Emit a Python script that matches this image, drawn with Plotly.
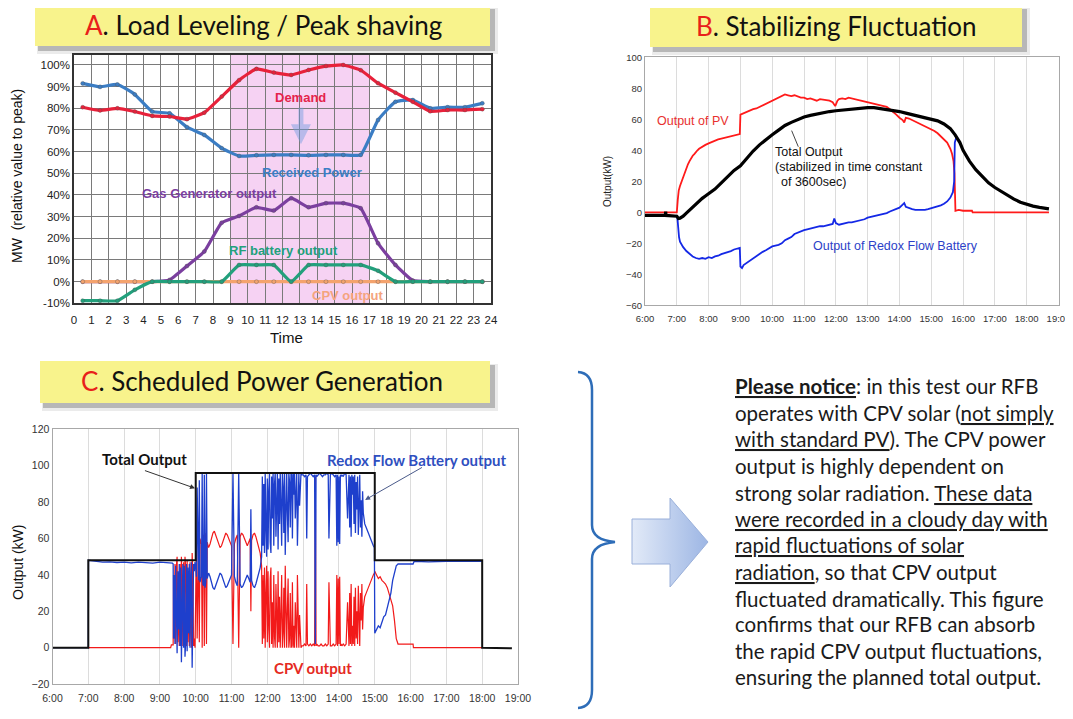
import plotly.graph_objects as go

# The page places the figure 8px from the top-left corner, so the figure is
# 8px smaller than the window and all reference pixel positions are shifted.
OFF = 8
RW, RH = 1073, 719
W, H = RW - OFF, RH - OFF

# ---------------- Panel A : Load leveling ----------------
a_hours = [0.5, 1.5, 2.5, 3.5, 4.5, 5.5, 6.5, 7.5, 8.5, 9.5, 10.5, 11.5,
           12.5, 13.5, 14.5, 15.5, 16.5, 17.5, 18.5, 19.5, 20.5, 21.5, 22.5, 23.5]
a_demand = [80.5, 79, 80, 78.5, 76.5, 76.2, 75, 78, 85.4, 93, 98.2, 96.5,
            95.4, 97.7, 99.5, 100, 97.6, 91.6, 87.2, 83, 78.6, 79.2, 79.2, 79.6]
a_received = [91.5, 89.9, 91, 86.4, 78.5, 77.7, 71.3, 67.7, 61.6, 58, 58.3, 58.5,
              58.5, 58.3, 58.5, 58.5, 58.5, 74.6, 83, 83.8, 80, 80.5, 80.5, 82.3]
a_gas = [0, 0, 0, 0, 0, 0.8, 7.2, 13.9, 27.2, 30.3, 34.3, 32.8,
         38.5, 34.3, 36.2, 36.2, 33.9, 17.7, 7.7, 0.5, 0, 0, 0, 0]
a_rf = [-8.8, -8.8, -8.8, -3.8, 0, 0, 0, 0, 0, 7.7, 7.7, 7.7,
        0, 7.7, 7.7, 7.7, 7.7, 5, 0, 0, 0, 0, 0, 0]
a_cpv = [0, 0, 0, 0, 0, 0, 0, 0, 0, 0, 0, 0,
         0, 0, 0, 0, 0, 0, 0, 0, 0, 0, 0, 0]
a_xticks = list(range(0, 25))
a_yticks = [-10, 0, 10, 20, 30, 40, 50, 60, 70, 80, 90, 100]
a_ytext = ["-10%", "0%", "10%", "20%", "30%", "40%", "50%", "60%", "70%", "80%", "90%", "100%"]

# ---------------- Panel B : Stabilizing fluctuation ----------------
b_pv_t = [6.0, 7.0, 7.03, 7.06, 7.1, 7.15, 7.2, 7.25, 7.3, 7.35, 7.4, 7.45, 7.5, 7.55, 7.6, 7.65,
          7.7, 7.8, 7.9, 8.0, 8.1, 8.2, 8.3, 8.4, 8.5, 8.6, 8.7, 8.8, 8.9, 8.98, 9.0, 9.1, 9.2,
          9.3, 9.4, 9.5, 9.6, 9.7, 9.8, 9.9, 10.0, 10.1, 10.2, 10.3, 10.4, 10.5, 10.6, 10.7, 10.8,
          10.9, 11.0, 11.1, 11.2, 11.3, 11.4, 11.5, 11.6, 11.7, 11.8, 11.9, 11.98, 12.05, 12.1,
          12.2, 12.3, 12.4, 12.5, 12.6, 12.7, 12.8, 12.9, 13.0, 13.1, 13.2, 13.3, 13.4, 13.5, 13.6,
          13.7, 13.8, 13.9, 14.0, 14.1, 14.15, 14.2, 14.3, 14.4, 14.5, 14.6, 14.7, 14.8, 14.9, 15.0,
          15.1, 15.2, 15.3, 15.4, 15.5, 15.6, 15.65, 15.7, 15.73, 15.76, 15.86, 16.0, 16.28, 16.3, 18.7]
b_pv_v = [0, 0, 8, 14, 17, 20, 23, 26, 29, 31, 33, 35, 36.5, 37.5, 39, 40,
          41, 42.5, 43.5, 44.5, 45.5, 46, 47, 47.5, 48, 48.5, 49, 49.5, 50, 50.5, 63, 64, 65,
          66, 66.5, 67, 68, 69.5, 70.5, 71.5, 72.5, 73, 74, 75, 76, 75.5, 75, 75.5, 74.5,
          74, 74, 73, 73.5, 72.5, 72, 73, 72.5, 72.5, 72, 71, 68.5, 72, 73,
          73.5, 73, 74, 73.5, 73, 72.5, 72, 71.5, 71, 70.5, 70, 69.5, 69, 68.5, 68,
          66.5, 65, 63, 61, 59.5, 58, 61, 60.5, 59.5, 58.5, 58, 57, 56, 55, 54,
          52.5, 51, 49, 47, 45, 41, 38, 33, 25, 1, 1.5, 1, 1, 0, 0]
b_tot_t = [6.0, 6.64, 6.65, 6.66, 7.0, 7.05, 7.1, 7.2, 7.3, 7.4, 7.5, 7.6, 7.7, 7.8, 7.9, 8.0,
           8.2, 8.4, 8.6, 8.8, 9.0, 9.2, 9.4, 9.6, 9.8, 10.0, 10.2, 10.4, 10.6, 10.8, 11.0, 11.2,
           11.4, 11.6, 11.8, 12.0, 12.2, 12.4, 12.6, 12.8, 13.0, 13.2, 13.4, 13.6, 13.8, 14.0,
           14.2, 14.4, 14.6, 14.8, 15.0, 15.2, 15.4, 15.6, 15.75, 15.9, 16.0, 16.2, 16.4, 16.6,
           16.8, 17.0, 17.2, 17.4, 17.6, 17.8, 18.0, 18.2, 18.4, 18.6, 18.7]
b_tot_v = [-2, -2, 0.5, -2, -2.5, -4, -3.8, -2.5, -0.5, 1.5, 3.5, 5.5, 7.5, 9, 10.5, 12,
           15, 19, 23, 27, 30, 35, 39.5, 43.5, 47, 50, 53, 56, 58, 60, 61.5, 62.5,
           63.5, 64.5, 65, 65.5, 66, 66.5, 67, 67.5, 67.5, 67.5, 67, 66.5, 66, 65,
           64, 63, 62, 61, 60, 59, 57, 54, 50, 45, 40, 33, 27.5, 23.5,
           19, 16, 13.5, 10.5, 8.5, 6.5, 5, 4, 3.2, 2.6, 2.2]
b_rfb_t = [6.0, 7.0, 7.02, 7.04, 7.07, 7.1, 7.15, 7.2, 7.3, 7.4, 7.5, 7.6, 7.7, 7.8, 7.9, 8.0,
           8.1, 8.2, 8.3, 8.4, 8.5, 8.6, 8.7, 8.8, 8.9, 8.98, 9.0, 9.05, 9.1, 9.2, 9.3, 9.4, 9.5,
           9.6, 9.7, 9.8, 9.9, 10.0, 10.1, 10.2, 10.3, 10.4, 10.5, 10.6, 10.7, 10.8, 10.9, 11.0,
           11.1, 11.2, 11.3, 11.4, 11.5, 11.6, 11.7, 11.8, 11.9, 11.95, 12.0, 12.1, 12.2, 12.3,
           12.4, 12.5, 12.6, 12.7, 12.8, 12.9, 13.0, 13.1, 13.2, 13.3, 13.4, 13.5, 13.6, 13.7,
           13.8, 13.9, 14.0, 14.1, 14.15, 14.2, 14.3, 14.4, 14.5, 14.6, 14.7, 14.8, 14.9, 15.0,
           15.1, 15.2, 15.3, 15.4, 15.5, 15.6, 15.68, 15.72, 15.74, 15.78]
b_rfb_v = [-2, -2.5, -4, -10, -16, -19, -21, -22.5, -25, -27, -28.5, -29.5, -30, -29.5, -30, -29,
           -29.5, -28.5, -28, -27, -26.5, -26, -25, -24, -23.5, -23, -35, -36, -34, -32.5, -31, -29.5, -28.5,
           -27, -25.5, -24.5, -23, -22, -21.5, -21, -20, -18, -17, -16, -14, -13, -12, -11.5,
           -11, -10.5, -10, -9.5, -9, -9, -8.5, -8, -7.5, -4, -7, -8, -7.5, -7,
           -6.5, -6.5, -6, -5.5, -5, -4.5, -3.5, -3, -2.5, -2, -1.5, -1, -0.5, 0.5,
           1.5, 2, 3, 5, 6, 3.5, 2.5, 2, 1.5, 1.5, 1.5, 1.5, 2, 2.5,
           3, 3.5, 4.5, 5.5, 7, 9.5, 13, 20, 45, 48]
b_ticks = [6, 7, 8, 9, 10, 11, 12, 13, 14, 15, 16, 17, 18, 19]
b_ticktext = ["6:00", "7:00", "8:00", "9:00", "10:00", "11:00", "12:00", "13:00",
              "14:00", "15:00", "16:00", "17:00", "18:00", "19:00"]

# ---------------- Panel C : Scheduled power generation ----------------
c_tot_t = [6.0, 7.0, 7.0, 10.0, 10.0, 15.0, 15.0, 18.0, 18.0, 18.83]
c_tot_v = [0, 0, 48, 48, 96, 96, 48, 48, 0, -0.3]

c_t_early = [9.30, 9.32, 9.37, 9.38, 9.40, 9.42, 9.44, 9.46, 9.48, 9.50, 9.52, 9.54, 9.56, 9.58,
             9.60, 9.62, 9.64, 9.66, 9.68, 9.70, 9.72, 9.74, 9.76, 9.78, 9.80, 9.82, 9.84, 9.86,
             9.88, 9.90, 9.92, 9.94, 9.96, 9.98]
c_cpv_early = [0, 1.5, 1.5, 40, 5, 46, 2, 45, 50, 3, 36, 1, 46, 4,
               50, 28, 1, 47, 2, 50, 44, 1, 48, 3, 40, 1, 47, 8,
               0, 52, 38, 1, 5, 0]
c_t_rfb_early = [9.37, 9.38, 9.40, 9.42, 9.44, 9.46, 9.48, 9.50, 9.52, 9.54, 9.56, 9.58, 9.60,
                 9.62, 9.64, 9.66, 9.68, 9.70, 9.72, 9.74, 9.76, 9.78, 9.80, 9.82, 9.84, 9.86,
                 9.88, 9.90, 9.92, 9.94, 9.96, 9.98]
c_rfb_early = [46, 5, 40, 2, 45, 0, -3, 42, 10, 46, 1, 44, -8,
               20, 46, 0, 45, -5, 3, 46, -2, 44, 8, 46, 0, 40,
               47, -11, 10, 46, 42, 47]

c_t_mid1 = [10.00, 10.02, 10.04, 10.06, 10.08, 10.10, 10.12, 10.14, 10.16, 10.18,
            10.20, 10.22, 10.24, 10.26, 10.28, 10.30, 10.32, 10.34, 10.36, 10.40,
            10.44, 10.48, 10.52, 10.56, 10.60, 10.64, 10.68, 10.72, 10.76, 10.80,
            10.84, 10.88, 10.92, 10.96, 11.00, 11.04, 11.06, 11.08, 11.12, 11.16,
            11.20, 11.22, 11.24, 11.28, 11.32, 11.36, 11.40, 11.44, 11.48, 11.52,
            11.54, 11.56, 11.60, 11.64, 11.68, 11.72, 11.76, 11.80, 11.84]
c_cpv_mid1 = [55, 57, 5, 58, 59, 3, 60, 58, 57, 0,
              61, 62, 1, 63, 60, 2, 58, 56, 55, 57,
              60, 63, 64, 62, 59, 57, 55, 56, 58, 61,
              63, 62, 60, 58, 56, 2, 54, 57, 60, 62,
              0, 58, 61, 63, 62, 60, 58, 56, 58, 60,
              20, 59, 62, 63, 61, 58, 55, 52, 45]
c_rfb_mid1 = [44, 39, 88, 38, 37, 92, 36, 38, 39, 96,
              35, 34, 95, 33, 36, 96, 38, 40, 41, 39,
              36, 33, 32, 34, 37, 39, 41, 40, 38, 35,
              33, 34, 36, 38, 40, 96, 42, 39, 36, 34,
              96, 38, 35, 33, 34, 36, 38, 40, 38, 36,
              76, 37, 34, 33, 35, 38, 41, 44, 50]

c_t_mid2 = [11.86, 11.88, 11.90, 11.92, 11.94, 11.96, 11.98, 12.00, 12.02, 12.04,
            12.06, 12.08, 12.10, 12.12, 12.14, 12.16, 12.18, 12.20, 12.22, 12.24,
            12.26, 12.28, 12.30, 12.32, 12.34, 12.36, 12.38, 12.40, 12.42, 12.44,
            12.46, 12.48, 12.50, 12.52, 12.54, 12.56, 12.58, 12.60, 12.62, 12.64,
            12.66, 12.68, 12.70, 12.72, 12.74, 12.76, 12.78, 12.80, 12.82, 12.84,
            12.86, 12.88, 12.90, 12.92, 12.94, 12.96, 12.98]
c_cpv_mid2 = [2, 40, 5, 44, 0, 30, 45, 3, 42, 10,
              0, 38, 44, 2, 25, 0, 40, 6, 0, 35,
              12, 0, 42, 3, 28, 0, 18, 40, 0, 8,
              33, 0, 45, 2, 0, 22, 38, 0, 5, 30,
              0, 1, 36, 0, 12, 0, 25, 1, 0, 40,
              2, 0, 18, 1, 0, 1, 1]
c_rfb_mid2 = [94, 56, 90, 52, 96, 66, 50, 93, 54, 86,
              96, 58, 52, 94, 71, 96, 56, 90, 96, 61,
              84, 96, 54, 93, 68, 96, 78, 56, 96, 88,
              63, 96, 51, 94, 96, 74, 58, 96, 91, 66,
              96, 95, 60, 96, 84, 96, 71, 95, 96, 56,
              94, 96, 78, 95, 96, 95, 95]

c_t_mid3 = [13.00, 13.04, 13.08, 13.10, 13.12, 13.16, 13.20, 13.24, 13.28, 13.32,
            13.34, 13.36, 13.38, 13.42, 13.46, 13.50, 13.54, 13.58, 13.62, 13.66,
            13.70, 13.72, 13.74, 13.76, 13.80, 13.84, 13.88, 13.92, 13.94, 13.96,
            13.98, 14.00, 14.02, 14.04, 14.06, 14.08, 14.12, 14.16, 14.20, 14.24,
            14.28, 14.30, 14.32, 14.34, 14.36, 14.38, 14.40, 14.42, 14.44, 14.46,
            14.48, 14.50, 14.52, 14.54, 14.56, 14.58, 14.60, 14.62, 14.64, 14.66,
            14.68, 14.72, 14.76, 14.80, 14.84, 14.88, 14.92, 14.96, 14.99]
c_cpv_mid3 = [1, 2, 1, 35, 2, 1, 2, 1, 2, 1,
              94, 1, 2, 1, 1, 2, 1, 1, 2, 1,
              2, 36, 2, 1, 1, 2, 1, 2, 40, 1,
              38, 2, 39, 1, 2, 1, 2, 1, 2, 25,
              1, 30, 2, 35, 1, 12, 2, 28, 1, 33,
              5, 20, 2, 34, 8, 1, 30, 15, 35, 10,
              22, 28, 30, 32, 35, 37, 38, 40, 41]
c_rfb_mid3 = [95, 94, 95, 60, 94, 95, 96, 95, 94, 95,
              2, 95, 94, 95, 96, 95, 94, 95, 95, 96,
              95, 60, 94, 95, 96, 95, 94, 95, 56, 95,
              58, 94, 57, 95, 94, 95, 94, 96, 95, 71,
              95, 66, 94, 61, 95, 84, 94, 68, 95, 63,
              91, 76, 94, 62, 88, 95, 66, 81, 61, 86,
              74, 68, 66, 64, 61, 59, 58, 56, 55]

c_t_cpv_late = [15.0, 15.05, 15.1, 15.15, 15.2, 15.25, 15.3, 15.35, 15.4, 15.45, 15.5, 15.55,
                15.6, 15.65, 16.07, 16.08, 18.0]
c_cpv_late = [42, 40, 38, 39, 37, 36, 35, 33, 30, 27, 23, 15, 5, 2, 2, 0, 0]
c_t_rfb_late = [15.0, 15.05, 15.1, 15.15, 15.2, 15.25, 15.3, 15.35, 15.4, 15.45, 15.5, 15.55,
                15.6, 15.65, 16.07, 16.1, 16.5, 17.0, 17.5, 17.99]
c_rfb_late = [8, 10, 12, 11, 14, 17, 18, 22, 25, 30, 37, 42, 45, 46, 46, 47.5, 47.2, 47.5, 47.3, 47.5]

c_t_rfb_start = [6.0, 7.0, 7.005, 7.2, 7.4, 7.6, 7.8, 8.0, 8.2, 8.4, 8.6, 8.8, 9.0, 9.2, 9.35]
c_rfb_start = [0, 0, 48, 47.5, 47, 47.2, 46.8, 47, 46.6, 47, 46.8, 46.5, 47, 46.6, 46.5]
c_t_cpv_start = [7.0]
c_cpv_start = [0]

c_cpv_t = c_t_cpv_start + c_t_early + c_t_mid1 + c_t_mid2 + c_t_mid3 + c_t_cpv_late
c_cpv_v = c_cpv_start + c_cpv_early + c_cpv_mid1 + c_cpv_mid2 + c_cpv_mid3 + c_cpv_late
c_rfb_t = c_t_rfb_start + c_t_rfb_early + c_t_mid1 + c_t_mid2 + c_t_mid3 + c_t_rfb_late
c_rfb_v = c_rfb_start + c_rfb_early + c_rfb_mid1 + c_rfb_mid2 + c_rfb_mid3 + c_rfb_late

# ---------------- Notice text ----------------
notice_lines = [
    "<u><b>Please notice</b></u>: in this test our RFB",
    "operates with CPV solar (<u>not simply</u>",
    "<u>with standard PV</u>). The CPV power",
    "output is highly dependent on",
    "strong solar radiation. <u>These data</u>",
    "<u>were recorded in a cloudy day with</u>",
    "<u>rapid fluctuations of solar</u>",
    "<u>radiation</u>, so that CPV output",
    "fluctuated dramatically. This figure",
    "confirms that our RFB can absorb",
    "the rapid CPV output fluctuations,",
    "ensuring the planned total output.",
]

# =====================================================================
fig = go.Figure()
ARIAL = "Liberation Sans, Arial, sans-serif"
CAL = "Lato, Carlito, Calibri, sans-serif"

a_series = [
    (a_gas, "#7B3F9F", "Gas Generator output"),
    (a_cpv, "#F4A36E", "CPV output"),
    (a_rf, "#22A07C", "RF battery output"),
    (a_received, "#3B7DC4", "Received Power"),
    (a_demand, "#E8213A", "Demand"),
]
for vals, col, nm in a_series:
    fig.add_trace(go.Scatter(x=a_hours, y=vals, mode="lines+markers", name=nm,
                             line=dict(color=col, width=3.2, shape="spline", smoothing=0.4),
                             marker=dict(size=4, color=col, line=dict(width=0.6, color="rgba(80,80,80,0.6)")),
                             xaxis="x", yaxis="y", showlegend=False, hoverinfo="skip"))

fig.add_trace(go.Scatter(x=b_pv_t, y=b_pv_v, mode="lines", line=dict(color="#FF1A1A", width=1.8),
                         xaxis="x2", yaxis="y2", showlegend=False))
fig.add_trace(go.Scatter(x=b_rfb_t, y=b_rfb_v, mode="lines", line=dict(color="#1428E6", width=1.8),
                         xaxis="x2", yaxis="y2", showlegend=False))
fig.add_trace(go.Scatter(x=b_tot_t, y=b_tot_v, mode="lines", line=dict(color="#000000", width=3.2),
                         xaxis="x2", yaxis="y2", showlegend=False))

fig.add_trace(go.Scatter(x=c_cpv_t, y=c_cpv_v, mode="lines", line=dict(color="#F21A1A", width=1.2),
                         xaxis="x3", yaxis="y3", showlegend=False))
fig.add_trace(go.Scatter(x=c_rfb_t, y=c_rfb_v, mode="lines", line=dict(color="#1E3FCC", width=1.3),
                         xaxis="x3", yaxis="y3", showlegend=False))
fig.add_trace(go.Scatter(x=c_tot_t, y=c_tot_v, mode="lines", line=dict(color="#111111", width=2),
                         xaxis="x3", yaxis="y3", showlegend=False))

# block arrow drawn on a pixel overlay axis (reference pixel coordinates)
arrow_x = [632, 670, 670, 708, 670, 670, 632, 632]
arrow_y = [519, 519, 498, 542, 587, 564, 564, 519]
fig.add_trace(go.Scatter(x=arrow_x, y=arrow_y, mode="lines", fill="toself",
                         fillgradient=dict(type="horizontal",
                                           colorscale=[[0, "#E2EAF8"], [1, "#9DB6E4"]]),
                         line=dict(color="#9AB0DA", width=1),
                         xaxis="x4", yaxis="y4", showlegend=False, hoverinfo="skip"))

def dom_x(a, b):
    return [(a - OFF) / W, (b - OFF) / W]

def dom_y(top, bottom):
    return [1 - (bottom - OFF) / H, 1 - (top - OFF) / H]

tickA = dict(family=ARIAL, size=11.5, color="#222")
fig.update_layout(
    template="none",
    width=W, height=H, margin=dict(l=0, r=0, t=0, b=0, pad=0, autoexpand=False),
    paper_bgcolor="white", plot_bgcolor="rgba(0,0,0,0)",
    xaxis=dict(domain=dom_x(74, 491), range=[0, 24], tickvals=a_xticks, showgrid=True,
               gridcolor="#7a7a7a", gridwidth=1, linecolor="#333", linewidth=1.5, mirror=True,
               zeroline=False, tickfont=tickA, ticks="", ticklabelstandoff=5, anchor="y",
               automargin=False, showline=True),
    yaxis=dict(domain=dom_y(55, 303.3), range=[-10, 104.6], tickvals=a_yticks, ticktext=a_ytext,
               showgrid=True, gridcolor="#7a7a7a", gridwidth=1, linecolor="#333", linewidth=1.5,
               mirror=True, zeroline=False, tickfont=tickA, ticks="", anchor="x",
               automargin=False, showline=True),
    xaxis2=dict(domain=dom_x(645, 1058.5), range=[6, 19], tickvals=b_ticks, ticktext=b_ticktext,
                showgrid=True, gridcolor="#dcdcdc", linecolor="#a8a8a8", mirror=True, zeroline=False,
                tickfont=dict(family=ARIAL, size=9.5, color="#333"), ticks="", anchor="y2",
                ticklabelstandoff=4, automargin=False, showline=True),
    yaxis2=dict(domain=dom_y(57.3, 305.3), range=[-60, 100], tickvals=[-60, -40, -20, 0, 20, 40, 60, 80, 100],
                showgrid=False, linecolor="#a8a8a8", mirror=True, zeroline=False,
                tickfont=dict(family=ARIAL, size=9.5, color="#333"), ticks="", anchor="x2",
                automargin=False, showline=True),
    xaxis3=dict(domain=dom_x(52.5, 518), range=[6, 19], tickvals=b_ticks, ticktext=b_ticktext,
                showgrid=True, gridcolor="#dcdcdc", linecolor="#a8a8a8", mirror=True, zeroline=False,
                tickfont=dict(family=ARIAL, size=10.5, color="#333"), ticks="", anchor="y3",
                ticklabelstandoff=4, automargin=False, showline=True),
    yaxis3=dict(domain=dom_y(429.3, 684.1), range=[-20, 120], tickvals=[-20, 0, 20, 40, 60, 80, 100, 120],
                showgrid=False, linecolor="#a8a8a8", mirror=True, zeroline=False,
                tickfont=dict(family=ARIAL, size=10.5, color="#333"), ticks="", anchor="x3",
                automargin=False, showline=True),
    xaxis4=dict(domain=[0, 1], range=[OFF, OFF + W], visible=False, anchor="y4", automargin=False),
    yaxis4=dict(domain=[0, 1], range=[OFF + H, OFF], visible=False, anchor="x4", automargin=False),
)

shapes = []
shapes.append(dict(type="rect", xref="x", yref="y", x0=9, x1=17, y0=-10, y1=104.6,
                   fillcolor="#F6D2F3", line=dict(width=0), layer="below"))
shapes.append(dict(type="line", xref="x2", yref="y2", x0=10.82, y0=42.3, x1=10.61, y1=52.7,
                   line=dict(color="#444", width=1)))

boxes = [(35, 5, 490, 46), (650, 5, 1022, 47), (40, 361, 490, 403)]
for (x0, y0, x1, y1) in boxes:
    shapes.append(dict(type="rect", xref="x4", yref="y4", x0=x0 + 2, y0=y0 + 3, x1=x1 + 8, y1=y1 + 8,
                       fillcolor="rgba(0,0,0,0.08)", line=dict(width=0)))
    shapes.append(dict(type="rect", xref="x4", yref="y4", x0=x0 + 3, y0=y0 + 4, x1=x1 + 5, y1=y1 + 5,
                       fillcolor="rgba(0,0,0,0.22)", line=dict(width=0)))
    shapes.append(dict(type="rect", xref="x4", yref="y4", x0=x0, y0=y0, x1=x1, y1=y1,
                       fillcolor="#F8F38C", line=dict(width=0)))

brace = ("M 578,372 Q 592,373 592,390 L 592,525 Q 592,540 615,542 "
         "Q 592,544 592,559 L 592,690 Q 592,707 578,708")
shapes.append(dict(type="path", xref="x4", yref="y4", path=brace,
                   line=dict(color="#2E6DB8", width=2.5)))
fig.update_layout(shapes=shapes)

ann = []
def T(x, y, text, size, color="#111", family=ARIAL, ref=("x4", "y4"), xanchor="center", angle=0):
    ann.append(dict(x=x, y=y, xref=ref[0], yref=ref[1], text=text, showarrow=False,
                    font=dict(family=family, size=size, color=color), xanchor=xanchor,
                    yanchor="middle", textangle=angle))

T(263, 25, "<span style='color:#E8201A'>A</span>. Load Leveling / Peak shaving", 26, "#111", CAL)
T(836, 26, "<span style='color:#E8201A'>B</span>. Stabilizing Fluctuation", 26, "#111", CAL)
T(262, 381, "<span style='color:#E8201A'>C</span>. Scheduled Power Generation", 26, "#111", CAL)

T(17, 176, "MW  (relative value to peak)", 14, "#111", ARIAL, angle=-90)
T(286.5, 337, "Time", 15, "#111", ARIAL)
T(607, 182, "Output(kW)", 10, "#222", ARIAL, angle=-90)
T(18, 563, "Output (kW)", 14, "#111", ARIAL, angle=-90)

T(13.06, 85.2, "<b>Demand</b>", 13, "#E4234C", ARIAL, ("x", "y"))
T(13.68, 50.2, "<b>Received Power</b>", 13, "#3B7DC4", ARIAL, ("x", "y"))
T(7.8, 40.5, "<b>Gas Generator output</b>", 13, "#7B3F9F", ARIAL, ("x", "y"))
T(12.08, 14.4, "<b>RF battery output</b>", 13, "#22A07C", ARIAL, ("x", "y"))
T(15.74, -6.3, "<b>CPV output</b>", 13, "#F4A47E", ARIAL, ("x", "y"))
ann.append(dict(x=13.06, y=63.4, xref="x", yref="y", ax=13.06, ay=81, axref="x", ayref="y",
                text="", showarrow=True, arrowhead=2, arrowsize=0.8, arrowwidth=5,
                arrowcolor="rgba(110,155,225,0.45)"))

T(7.52, 58.9, "Output of PV", 12.5, "#E8302F", ARIAL, ("x2", "y2"))
T(10.02, 39.1, "Total Output", 12.5, "#111", ARIAL, ("x2", "y2"), xanchor="left")
T(10.02, 29.4, "(stabilized in time constant", 12.5, "#111", ARIAL, ("x2", "y2"), xanchor="left")
T(10.22, 19.7, "of 3600sec)", 12.5, "#111", ARIAL, ("x2", "y2"), xanchor="left")
T(13.89, -21.5, "Output of Redox Flow Battery", 12.5, "#2C3FC8", ARIAL, ("x2", "y2"))

T(8.58, 103.5, "<b>Total Output</b>", 15, "#111", CAL, ("x3", "y3"))
T(16.17, 103.1, "<b>Redox Flow Battery output</b>", 15, "#2F4FBF", CAL, ("x3", "y3"))
T(13.28, -11.3, "<b>CPV output</b>", 15, "#E52A22", CAL, ("x3", "y3"))
ann.append(dict(x=9.98, y=87.6, xref="x3", yref="y3", ax=8.54, ay=97.6, axref="x3", ayref="y3",
                text="", showarrow=True, arrowhead=2, arrowsize=1, arrowwidth=1, arrowcolor="#333"))
ann.append(dict(x=14.73, y=81.2, xref="x3", yref="y3", ax=16.36, ay=99.5, axref="x3", ayref="y3",
                text="", showarrow=True, arrowhead=2, arrowsize=1, arrowwidth=1, arrowcolor="#4A5A8A"))

line_y = [386, 413, 439, 466, 493, 519, 545, 572, 599, 624, 651, 677]
for yy, txt in zip(line_y, notice_lines):
    T(733, yy, txt, 20.5, "#1a1a1a", CAL, xanchor="left")

fig.update_layout(annotations=ann)
fig.write_html("out.html")
